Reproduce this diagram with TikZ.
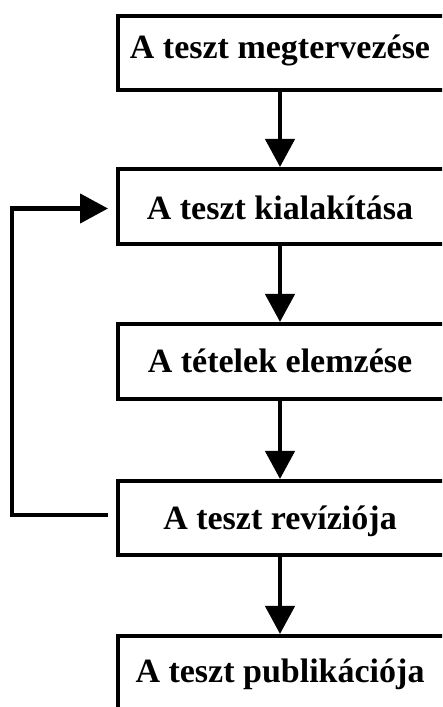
\documentclass[tikz,border=0pt]{standalone}
\usepackage{fontspec}
\setmainfont{Liberation Serif}
\usetikzlibrary{arrows.meta}
\begin{document}
\begin{tikzpicture}[x=1pt,y=1pt,
  box/.style={draw=black, line width=4pt, minimum width=330pt, inner sep=0pt, fill=white},
  lbl/.style={anchor=base, font=\fontsize{34}{40}\selectfont\bfseries, inner sep=0pt},
  conn/.style={line width=4.5pt, -{Triangle[length=28pt,width=29pt]}}]
\useasboundingbox (0,0) rectangle (442,707);
\clip (0,0) rectangle (442,707);
\fill[white] (0,0) rectangle (442,707);
\node[box, minimum height=74pt] (b1) at (283,654) {};
\node[box, minimum height=75pt] (b2) at (283,500.5) {};
\node[box, minimum height=75pt] (b3) at (283,345.5) {};
\node[box, minimum height=74pt] (b4) at (283,189) {};
\node[box, minimum height=80pt] (b5) at (283,31) {};
\node[lbl] (t1) at (280,648) {A teszt megtervezése};
\node[lbl] (t2) at (280,487) {A teszt kialakítása};
\node[lbl] (t3) at (280,334) {A tételek elemzése};
\node[lbl] (t4) at (280,177) {A teszt revíziója};
\node[lbl] (t5) at (280,24) {A teszt publikációja};
\coordinate (lx) at (12,0);
\coordinate (ls) at ([xshift=-8pt,yshift=3pt]b4.west);
\coordinate (le) at ([xshift=-8pt,yshift=-2pt]b2.west);
\draw[conn] (t1 |- b1.south) -- (t1 |- b2.north);
\draw[conn] (t1 |- b2.south) -- (t1 |- b3.north);
\draw[conn] (t1 |- b3.south) -- (t1 |- b4.north);
\draw[conn] (t1 |- b4.south) -- (t1 |- b5.north);
\draw[conn] (ls) -- (lx |- ls) -- (lx |- le) -- (le);
\end{tikzpicture}
\end{document}
